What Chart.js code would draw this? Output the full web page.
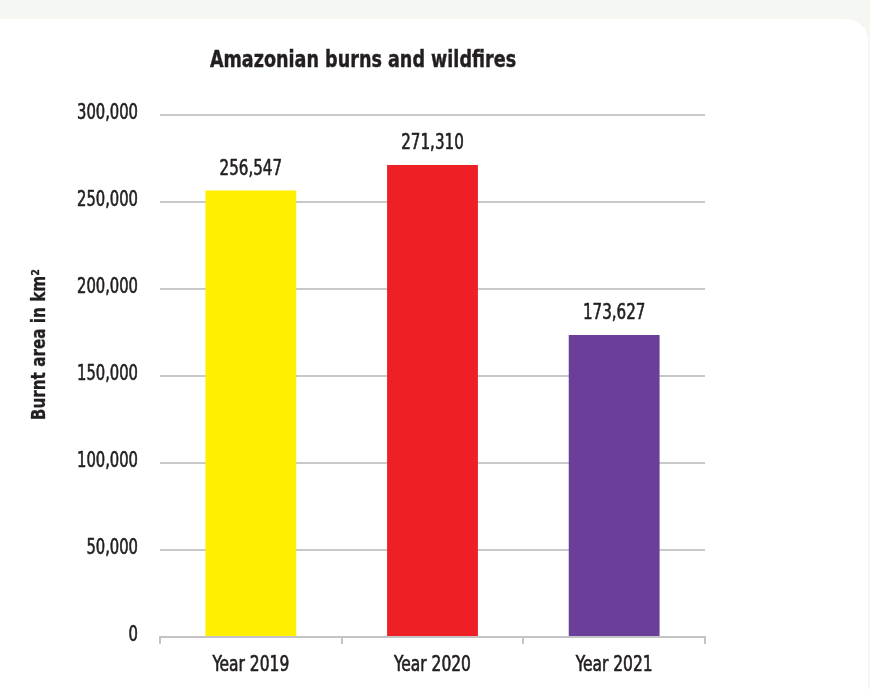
<!DOCTYPE html>
<html>
<head>
<meta charset="utf-8">
<script src="https://cdn.jsdelivr.net/npm/chart.js@4"></script>
<style>
  html, body { margin: 0; padding: 0; }
  body { width: 870px; height: 689px; background: #f5f7f3; position: relative; overflow: hidden; }
  .card { position: absolute; left: -30px; top: 19px; width: 898px; height: 700px; background: #fff; border-radius: 22px; }
  .wrap { position: absolute; left: 0; top: 0; width: 726px; height: 689px; }
</style>
</head>
<body>
<div class="card"></div>
<div class="wrap"><canvas id="c"></canvas></div>
<script>
const chartTitle = 'Amazonian burns and wildfires';
const yAxisTitle = 'Burnt area in km²';
const categories = ['Year 2019', 'Year 2020', 'Year 2021'];
const burntArea = [256547, 271310, 173627];
const barColors = ['#fff000', '#ee1f25', '#6b3f99'];
const yTicks = [0, 50000, 100000, 150000, 200000, 250000, 300000];

const FAMILY = '"DejaVu Sans Condensed", "DejaVu Sans", sans-serif';
const INK = '#231f20';
const fmt = v => v.toLocaleString('en-US');

// Text in a tall, narrow face: DejaVu Sans Condensed squeezed horizontally,
// with a hairline outline to keep the stems from looking too thin.
function narrowText(ctx, text, x, y, font, align, squeeze, weightPx, angle) {
  ctx.save();
  ctx.translate(x, y);
  if (angle) ctx.rotate(angle);
  ctx.scale(squeeze, 1);
  ctx.font = font;
  ctx.fillStyle = INK;
  ctx.strokeStyle = INK;
  ctx.lineJoin = 'round';
  ctx.textAlign = align;
  ctx.textBaseline = 'middle';
  ctx.fillText(text, 0, 0);
  if (weightPx) {
    ctx.lineWidth = weightPx;
    ctx.strokeText(text, 0, 0);
  }
  ctx.restore();
}

const textLayer = {
  id: 'textLayer',
  afterDraw(chart) {
    const ctx = chart.ctx;
    const a = chart.chartArea;
    const xs = chart.scales.x;
    const ys = chart.scales.y;
    const regular = '20.5px ' + FAMILY;

    // title, centred over the chart block
    narrowText(ctx, chartTitle, chart.width / 2, a.top - 54, 'bold 23px ' + FAMILY, 'center', 0.85, 0.4);

    // y tick labels
    ys.ticks.forEach(t => {
      narrowText(ctx, fmt(t.value), a.left - 22, ys.getPixelForValue(t.value) - 1, regular, 'right', 0.8, 0.6);
    });

    // category labels
    chart.data.labels.forEach((lab, i) => {
      narrowText(ctx, lab, xs.getPixelForTick(i), a.bottom + 29, regular, 'center', 0.84, 0.6);
    });

    // value labels above the bars
    const meta = chart.getDatasetMeta(0);
    meta.data.forEach((bar, i) => {
      narrowText(ctx, fmt(chart.data.datasets[0].data[i]), bar.x, bar.y - 21, regular, 'center', 0.82, 0.6);
    });

    // vertical axis title
    narrowText(ctx, yAxisTitle, a.left - 120, a.top + (a.bottom - a.top) * 0.44, 'bold 19px ' + FAMILY, 'center', 0.89, 0.3, -Math.PI / 2);
  }
};

new Chart(document.getElementById('c'), {
  type: 'bar',
  data: {
    labels: categories,
    datasets: [{
      data: burntArea,
      backgroundColor: barColors,
      borderWidth: 0,
      barPercentage: 0.5,
      categoryPercentage: 1.0
    }]
  },
  options: {
    responsive: true,
    maintainAspectRatio: false,
    animation: false,
    events: [],
    layout: { padding: { left: 0, right: 21, top: 115, bottom: 0 } },
    plugins: {
      legend: { display: false },
      tooltip: { enabled: false },
      title: { display: false }
    },
    scales: {
      x: {
        grid: { display: true, offset: true, drawOnChartArea: false, drawTicks: true, tickLength: 7, color: '#c4c4c8', lineWidth: 2 },
        border: { display: true, color: '#c4c4c8', width: 2 },
        ticks: { display: false },
        afterFit(scale) { scale.height = 52; }
      },
      y: {
        min: 0,
        max: 300000,
        afterBuildTicks(scale) { scale.ticks = yTicks.map(v => ({ value: v })); },
        grid: { color: '#c9c9cd', lineWidth: 2, drawTicks: false },
        border: { display: false },
        ticks: { display: false },
        afterFit(scale) { scale.width = 160; }
      }
    }
  },
  plugins: [textLayer]
});
</script>
</body>
</html>
